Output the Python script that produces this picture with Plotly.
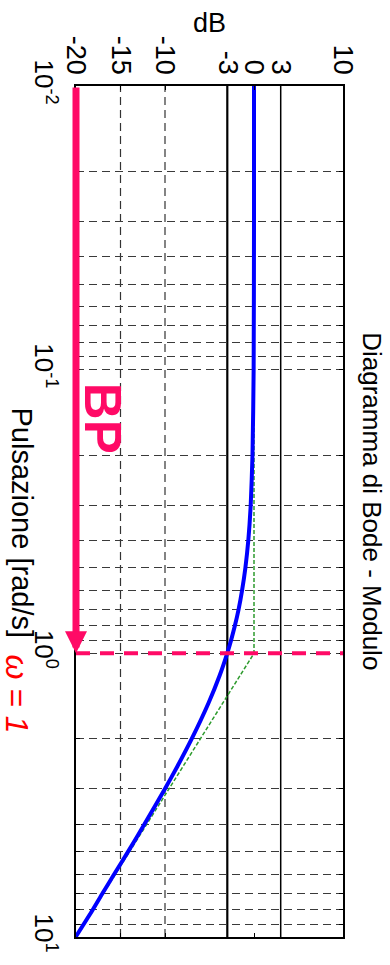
import math
import plotly.graph_objects as go

# ---- data ----
freq = [0.01, 0.03, 0.1, 0.2, 0.3, 0.4, 0.5, 0.6, 0.7, 0.8, 0.9, 1.0, 1.2, 1.5, 2.0, 2.5, 3.0, 4.0, 5.0, 6.0, 7.0, 8.0, 10.0]
mag_db = [0.0, 0.0, -0.04, -0.17, -0.37, -0.64, -0.97, -1.34, -1.73, -2.15, -2.58, -3.01, -3.87, -5.12, -6.99, -8.6, -10.0, -12.3, -14.15, -15.7, -17.0, -18.1, -20.04]

asym_freq = [0.01, 1.0, 10.0]
asym_db = [0.0, 0.0, -20.0]

db_ticks = [-20, -15, -10, -3, 0, 3, 10]
db_ticktext = ["-20", "-15", "-10", "-3", "0", "3", "10"]
db_dashed = [-15, -10]
db_solid = [-3, 3]

decades = [0.01, 0.1, 1.0, 10.0]
decade_labels = ["10<sup>-2</sup>", "10<sup>-1</sup>", "10<sup>0</sup>", "10<sup>1</sup>"]
mult = [1, 2, 3, 4, 5, 6, 7, 8, 9]

cutoff = 1.0          # omega = 1 (band edge)
db_min, db_max = -20, 10
f_min, f_max = 0.01, 10.0

PINK = "#FF0A66"
FONT = "Liberation Sans, Arial, sans-serif"

# y tick values (all minor grid positions), labels only at decades
yvals, ytext = [], []
for d, lab in zip(decades, decade_labels):
    for m in mult:
        v = round(d * m, 6)
        if v > f_max + 1e-9:
            continue
        yvals.append(v)
        ytext.append(lab if m == 1 else "")

fig = go.Figure()

fig.add_trace(go.Scatter(x=asym_db, y=asym_freq, mode="lines",
                         line=dict(color="#2E9B2E", width=1.5, dash="4px,2px"),
                         hoverinfo="skip", showlegend=False))
fig.add_trace(go.Scatter(x=mag_db, y=freq, mode="lines",
                         line=dict(color="#0000FF", width=4, shape="spline", smoothing=0.6),
                         showlegend=False))

shapes = []
for v in db_dashed:
    shapes.append(dict(type="line", xref="x", yref="paper", x0=v, x1=v, y0=0, y1=1,
                       line=dict(color="#333333", width=1.2, dash="8px,5px"), layer="below"))
for v, w in zip(db_solid, [2.2, 1.5]):
    shapes.append(dict(type="line", xref="x", yref="paper", x0=v, x1=v, y0=0, y1=1,
                       line=dict(color="black", width=w), layer="below"))
# pink dashed line at omega = 1
shapes.append(dict(type="line", xref="x", yref="y", x0=db_min, x1=db_max + 0.2,
                   y0=cutoff, y1=cutoff,
                   line=dict(color=PINK, width=4, dash="14px,10px"), layer="above"))

annotations = [
    dict(x=db_min, y=math.log10(cutoff), ax=db_min, ay=math.log10(f_min),
         xref="x", yref="y", axref="x", ayref="y", text="", showarrow=True,
         arrowhead=2, arrowwidth=7, arrowsize=0.63, arrowcolor=PINK),
    dict(text="<b>BP</b>", x=0.097, y=0.609, xref="paper", yref="paper",
         textangle=90, showarrow=False, font=dict(size=51, color=PINK, family=FONT),
         xanchor="center", yanchor="middle"),
    dict(text="Diagramma di Bode - Modulo", x=1.109, y=0.512, xref="paper", yref="paper",
         textangle=90, showarrow=False, font=dict(size=26, color="black", family=FONT),
         xanchor="center", yanchor="middle"),
    dict(text="Pulsazione [rad/s]", x=-0.202, y=0.487, xref="paper", yref="paper",
         textangle=90, showarrow=False, font=dict(size=29, color="black", family=FONT),
         xanchor="center", yanchor="middle"),
    dict(text="<i>ω = 1</i>", x=-0.221, y=0.285, xref="paper", yref="paper",
         textangle=90, showarrow=False, font=dict(size=32, color="#FF0000", family=FONT),
         xanchor="center", yanchor="middle"),
    dict(text="dB", x=0.5, y=1.074, xref="paper", yref="paper",
         showarrow=False, font=dict(size=27, color="black", family=FONT),
         xanchor="center", yanchor="middle"),
]

fig.update_layout(
    width=390, height=965,
    margin=dict(l=76, r=47, t=86, b=19),
    paper_bgcolor="white", plot_bgcolor="white",
    showlegend=False,
    shapes=shapes, annotations=annotations,
    font=dict(family=FONT, color="black"),
    xaxis=dict(range=[db_min, db_max], side="top", tickvals=db_ticks, ticktext=db_ticktext,
               tickangle=90, tickfont=dict(size=27, family=FONT, color="black"),
               showgrid=False, zeroline=False, showline=True, mirror="ticks",
               linecolor="black", linewidth=1.5, ticks="inside", ticklen=4,
               tickcolor="black"),
    yaxis=dict(type="log", range=[math.log10(f_max), math.log10(f_min)],
               tickvals=yvals, ticktext=ytext, tickangle=90,
               tickfont=dict(size=26, family=FONT, color="black"),
               ticklabelstandoff=8,
               showgrid=True, gridcolor="#3a3a3a", gridwidth=1.2, griddash="8px,5px",
               zeroline=False, showline=True, mirror="ticks", linecolor="black",
               linewidth=1.5, ticks="inside", ticklen=4, tickcolor="black"),
)

fig.write_html("out.html", config={"displayModeBar": False},
               post_script="document.body.style.margin='0';document.body.style.overflow='hidden';")
